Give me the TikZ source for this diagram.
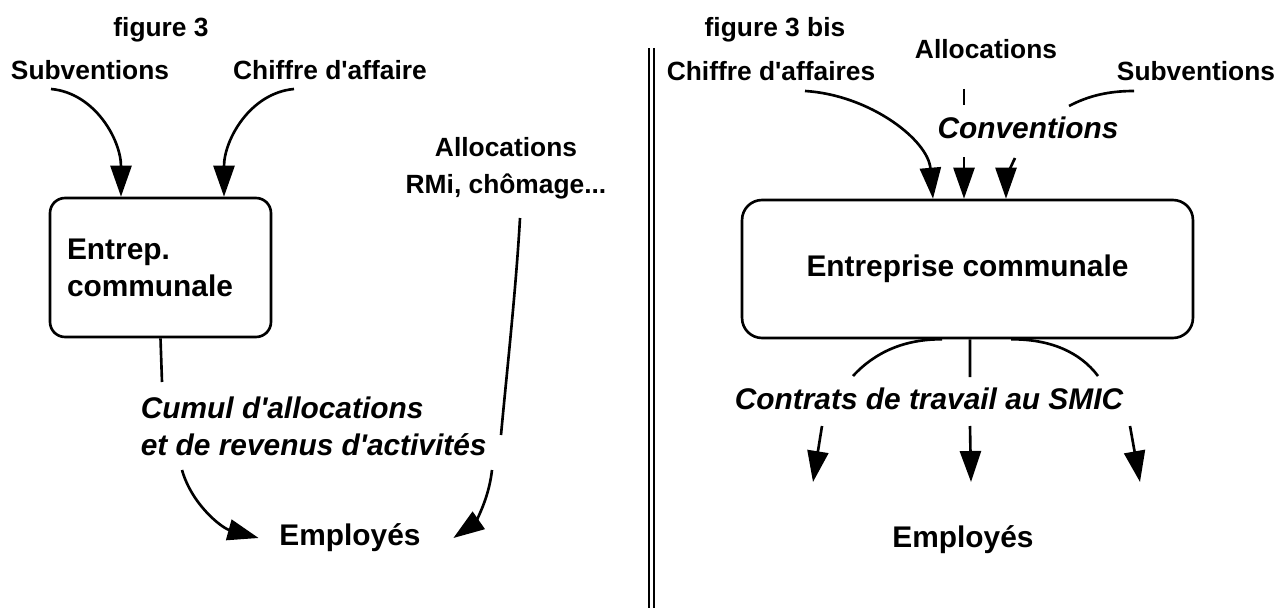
\documentclass[tikz,border=0pt]{standalone}
\usepackage{fontspec}
\setmainfont{Liberation Sans}
\usetikzlibrary{arrows.meta, calc}

\tikzset{
  lbl/.style={font=\fontsize{15}{21}\selectfont\bfseries, inner sep=2pt},
  big/.style={font=\fontsize{17}{21}\selectfont\bfseries, inner sep=2pt},
  slant/.style={font=\fontsize{17}{21}\selectfont\bfseries\itshape, inner sep=2pt},
  box/.style={draw, line width=1.5pt, rounded corners=#1},
  arr/.style={-{Triangle[length=0.62cm, width=0.42cm]}}
}

\begin{document}
\begin{tikzpicture}[
  x=0.02cm, y=-0.02cm,
  line width=1.5pt
]

\fill[white] (0,0) rectangle (1278,608);
\useasboundingbox (0,0) rectangle (1278,608);

% ------------------- Left: figure 3 ------------------- %
\begin{scope}

  % Labels
  \node[lbl] (fig3) at (161,30) {figure 3};
  \node[lbl] (subvL) at (90,70) {Subventions};
  \node[lbl] (caL) at (330,70) {Chiffre d\textquotesingle affaire};
  \node[lbl, align=center] (allocL) at (506,168) {Allocations\\RMi, chômage...};

  % Box
  \node[box=0.3cm, big, align=left, text width=3.74cm, inner xsep=0.34cm,
    minimum height=2.78cm] (entL) at (160.5,267.5) {Entrep.\\communale};

  \node[slant, align=left, anchor=west] (cumul) at (136,426.5)
    {Cumul d\textquotesingle allocations\\et de revenus d\textquotesingle activités};
  \node[big] (empL) at (350,538) {Employés};

  % Free ends
  \coordinate (subvL-s) at (51,89);
  \coordinate (caL-s) at (294,89);
  \coordinate (entL-e) at (162,382);
  \coordinate (cumul-s) at (182,470);
  \coordinate (allocL-s) at (520,218);
  \coordinate (allocL-m) at (501,435);
  \coordinate (allocL-r) at (492,470);

  % Incoming arrows
  \draw[arr] (subvL-s) .. controls (95,93) and (121,140) .. ($(entL.north)+(-39.5,0)$);
  \draw[arr] (caL-s) .. controls (250,93) and (224,140) .. ($(entL.north)+(63.5,0)$);

  % Outgoing
  \draw (entL.south) -- (entL-e);
  \draw[arr] (cumul-s) .. controls (192,505) and (222,528) .. ($(empL.west)+(-16,0)$);

  % Allocations line, broken by the text
  \draw (allocL-s) .. controls (516,290) and (506,380) .. (allocL-m);
  \draw[arr] (allocL-r) .. controls (488,505) and (472,525) .. ($(empL.east)+(28,0)$);
\end{scope}

% Separator
\draw[line width=0.9pt, double distance=0.06cm] (651.5,48) -- (651.5,608);

% ------------------- Right: figure 3 bis ------------------- %
\begin{scope}

  % Labels
  \node[lbl] (fig3b) at (775,30) {figure 3 bis};
  \node[lbl] (allocR) at (986,49) {Allocations};
  \node[lbl] (caR) at (771,71) {Chiffre d\textquotesingle affaires};
  \node[lbl] (subvR) at (1196,71) {Subventions};
  \node[slant] (conv) at (1028,128) {Conventions};

  % Box
  \node[box=0.4cm, big, minimum width=9.02cm, minimum height=2.76cm]
    (entR) at (967.5,269) {Entreprise communale};

  \node[slant] (contrats) at (929,399) {Contrats de travail au SMIC};
  \node[big] (empR) at (963,540) {Employés};

  % Free ends
  \coordinate (caR-s) at (805,91);
  \coordinate (allocR-s) at (964,89);
  \coordinate (allocR-m) at (964,105);
  \coordinate (conv-m) at (964,157);
  \coordinate (subvR-s) at (1134,91);
  \coordinate (subvR-m) at (1069,106);
  \coordinate (conv-r) at (1015,158);

  % Incoming arrows
  \draw[arr] (caR-s) .. controls (870,95) and (928,140) .. ($(entR.north)+(-34.5,0)$);
  \draw (allocR-s) -- (allocR-m);
  \draw[arr] (conv-m) -- ($(entR.north)+(-3.5,0)$);
  \draw (subvR-s) .. controls (1108,91) and (1088,96) .. (subvR-m);
  \draw[arr] (conv-r) .. controls (1010,168) and (1006,180) .. ($(entR.north)+(38.5,0)$);

  % Outgoing
  \coordinate (entR-l) at (853,376);
  \coordinate (entR-m) at (970,377);
  \coordinate (entR-r) at (1098,376);
  \draw ($(entR.south)+(-25.5,0)$) .. controls (905,339) and (875,352) .. (entR-l);
  \draw ($(entR.south)+(2.5,0)$) -- (entR-m);
  \draw ($(entR.south)+(43.5,0)$) .. controls (1050,339) and (1080,352) .. (entR-r);

  % Arrows to the employees
  \foreach \s/\e [count=\i] in {822/813, 970/971, 1130/1140} {
    \coordinate (ct\i) at (\s,426);
    \coordinate (em\i) at (\e,482);
    \draw[arr] (ct\i) -- (em\i);
  }
\end{scope}

\end{tikzpicture}
\end{document}
